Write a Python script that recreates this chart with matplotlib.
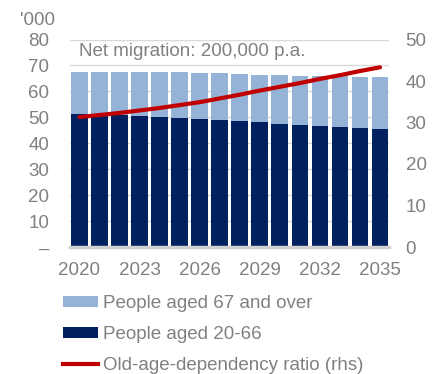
import matplotlib
matplotlib.use("Agg")
import matplotlib.pyplot as plt
from matplotlib.patches import Patch
from matplotlib.lines import Line2D
import numpy as np

plt.rcParams['font.family'] = ['Liberation Sans', 'DejaVu Sans']

years = list(range(2020, 2036))
aged_20_66 = [51.3, 50.7, 50.7, 50.5, 50.2, 49.9, 49.5, 49.0, 48.7, 48.1, 47.4, 47.1, 46.7, 46.2, 45.8, 45.5]
total_pop = [67.6, 67.6, 67.6, 67.6, 67.4, 67.4, 67.1, 67.0, 66.7, 66.4, 66.3, 66.0, 65.9, 65.8, 65.6, 65.4]
aged_67_over = [round(t - y, 1) for t, y in zip(total_pop, aged_20_66)]
dependency_ratio = [31.3, 31.8, 32.3, 32.9, 33.5, 34.2, 34.9, 35.8, 36.7, 37.7, 38.6, 39.5, 40.5, 41.4, 42.4, 43.3]

left_ticks = [0, 10, 20, 30, 40, 50, 60, 70, 80]
left_ticklabels = ['–', '10', '20', '30', '40', '50', '60', '70', '80']
right_ticks = [0, 10, 20, 30, 40, 50]
xtick_years = [2020, 2023, 2026, 2029, 2032, 2035]

labels = ['People aged 67 and over', 'People aged 20-66', 'Old-age-dependency ratio (rhs)']
annotation = 'Net migration: 200,000 p.a.'
unit_label = "'000"

light = '#95b3d7'
dark = '#002060'
red = '#c00000'
txt = '#808080'
grid = '#d9d9d9'

W, H = 440, 374
fig = plt.figure(figsize=(W / 100, H / 100), dpi=100)
ax = fig.add_axes([70 / W, (H - 247) / H, (389 - 70) / W, (247 - 39.5) / H])

x = np.arange(len(years))
ax.bar(x, aged_20_66, width=0.83, color=dark, zorder=2)
ax.bar(x, aged_67_over, bottom=aged_20_66, width=0.83, color=light, zorder=2)

ax.set_xlim(-0.47, 15.45)
ax.set_ylim(0, 80)
ax.set_yticks(left_ticks)
ax.set_yticklabels(left_ticklabels)
ax.set_xticks([years.index(y) for y in xtick_years])
ax.set_xticklabels([str(y) for y in xtick_years])
ax.grid(axis='y', color=grid, lw=1, zorder=0)
ax.set_axisbelow(True)
for s in ['top', 'left', 'right']:
    ax.spines[s].set_visible(False)
ax.spines['bottom'].set_color('#d0d0d0')
ax.spines['bottom'].set_linewidth(2.5)
ax.tick_params(axis='both', length=0, labelsize=13.5, colors=txt)
ax.tick_params(axis='y', pad=15)
ax.tick_params(axis='x', pad=11)

ax2 = ax.twinx()
ax2.plot(x, dependency_ratio, color=red, lw=3, solid_capstyle='round', zorder=5)
ax2.set_ylim(0, 50)
ax2.set_yticks(right_ticks)
for s in ['top', 'left', 'right', 'bottom']:
    ax2.spines[s].set_visible(False)
ax2.tick_params(axis='y', length=0, labelsize=13.5, colors=txt, pad=12)

ax.text(0.0, 75.2, annotation, fontsize=13.5, color=txt, va='center', ha='left')
fig.text(20 / W, (H - 20.5) / H, unit_label, fontsize=13.5, color=txt, va='center', ha='left')

handles = [Patch(facecolor=light), Patch(facecolor=dark), Line2D([0], [0], color=red, lw=3)]
fig.legend(handles, labels, loc='upper left', bbox_to_anchor=(63 / W, (H - 295) / H),
           frameon=False, fontsize=13.5, labelcolor=txt, borderpad=0, borderaxespad=0,
           handlelength=1.85, handleheight=0.55, handletextpad=0.3, labelspacing=0.74)

fig.savefig('out.png', dpi=100)
